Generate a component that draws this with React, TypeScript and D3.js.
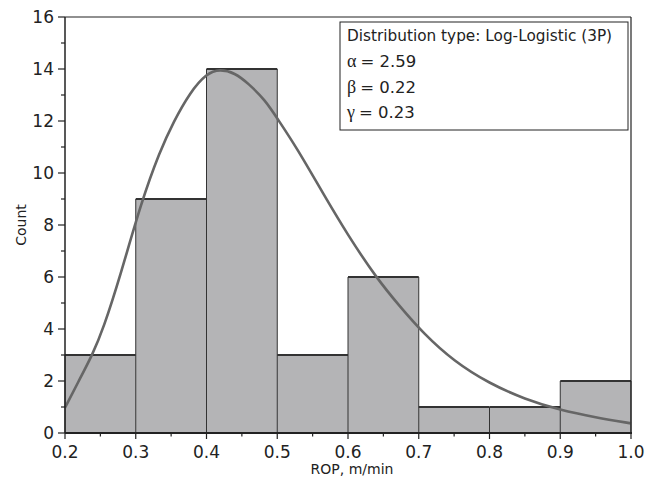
import React from "react";
import * as d3 from "d3";

// Histogram bins (ROP, m/min) and counts
const binEdges = [0.2, 0.3, 0.4, 0.5, 0.6, 0.7, 0.8, 0.9, 1.0];
const counts = [3, 9, 14, 3, 6, 1, 1, 2];

// Fitted Log-Logistic (3P) density, scaled to counts
const fitX = [0.2, 0.219, 0.2386, 0.254, 0.2777, 0.308, 0.3343, 0.353, 0.3767, 0.4, 0.419, 0.44, 0.459, 0.483, 0.5, 0.528, 0.565, 0.6, 0.6405, 0.6735, 0.7065, 0.75, 0.8, 0.85, 0.9, 0.95, 1.0];
const fitY = [0.97, 1.98, 3.0, 4.0, 6.0, 8.9, 10.85, 11.95, 13.1, 13.83, 14.0, 13.85, 13.45, 12.8, 12.1, 10.95, 9.2, 7.6, 5.95, 4.86, 3.83, 2.75, 1.9, 1.3, 0.88, 0.6, 0.37];

const xTicks = [0.2, 0.3, 0.4, 0.5, 0.6, 0.7, 0.8, 0.9, 1.0];
const yTicks = [0, 2, 4, 6, 8, 10, 12, 14, 16];

const legendTitle = "Distribution type: Log-Logistic (3P)";
const paramSymbols = ["α", "β", "γ"];
const paramValues = ["2.59", "0.22", "0.23"];

const W = 656;
const H = 494;
const margin = { left: 65, right: 25, top: 17, bottom: 61 };
const FONT = "'DejaVu Sans', sans-serif";

export default function App() {
  const x = d3.scaleLinear().domain([0.2, 1.0]).range([margin.left, W - margin.right]);
  const y = d3.scaleLinear().domain([0, 16]).range([H - margin.bottom, margin.top]);

  const line = d3
    .line<number>()
    .x((_, i) => x(fitX[i]))
    .y((d) => y(d))
    .curve(d3.curveBasis);

  const x0 = x(0.2);
  const x1 = x(1.0);
  const y0 = y(0);
  const yTop = y(16);

  const xMinor = d3.range(0.25, 1.0, 0.1);
  const yMinor = d3.range(1, 16, 2);

  return (
    <svg width={W} height={H} style={{ position: "absolute", left: 0, top: 0, background: "#fff" }} fontFamily={FONT}>
      {/* bars */}
      {counts.map((c, i) => (
        <rect
          key={"b" + i}
          x={x(binEdges[i])}
          y={y(c)}
          width={x(binEdges[i + 1]) - x(binEdges[i])}
          height={y0 - y(c)}
          fill="#b4b4b6"
        />
      ))}
      {/* bar tops */}
      {counts.map((c, i) => (
        <line key={"t" + i} x1={x(binEdges[i])} x2={x(binEdges[i + 1])} y1={y(c)} y2={y(c)} stroke="#333" strokeWidth={2} />
      ))}
      {/* bar sides */}
      {binEdges.map((e, i) => {
        const left = i > 0 ? counts[i - 1] : 0;
        const right = i < counts.length ? counts[i] : 0;
        const h = Math.max(left, right);
        return <line key={"s" + i} x1={x(e)} x2={x(e)} y1={y(h)} y2={y0} stroke="#333" strokeWidth={1} />;
      })}

      {/* fitted curve */}
      <path d={line(fitY) || ""} fill="none" stroke="#666" strokeWidth={2.6} />

      {/* frame */}
      <line x1={x0} x2={x1} y1={yTop} y2={yTop} stroke="#222" strokeWidth={1.2} />
      <line x1={x1} x2={x1} y1={yTop} y2={y0} stroke="#222" strokeWidth={1.2} />
      <line x1={x0} x2={x0} y1={yTop} y2={y0} stroke="#222" strokeWidth={1.5} />
      <line x1={x0} x2={x1 + 1} y1={y0} y2={y0} stroke="#222" strokeWidth={2.2} />

      {/* y axis ticks */}
      {yTicks.map((t) => (
        <g key={"yt" + t}>
          <line x1={x0 - 7} x2={x0} y1={y(t)} y2={y(t)} stroke="#222" strokeWidth={1.2} />
          <text x={x0 - 11} y={y(t)} dy="0.36em" textAnchor="end" fontSize={17} fill="#222">
            {t}
          </text>
        </g>
      ))}
      {yMinor.map((t) => (
        <line key={"ym" + t} x1={x0 - 4} x2={x0} y1={y(t)} y2={y(t)} stroke="#222" strokeWidth={1.2} />
      ))}

      {/* x axis ticks */}
      {xTicks.map((t) => (
        <g key={"xt" + t}>
          <line x1={x(t)} x2={x(t)} y1={y0} y2={y0 + 6} stroke="#222" strokeWidth={1.2} />
          <text x={x(t)} y={y0 + 25} textAnchor="middle" fontSize={17} fill="#222">
            {t.toFixed(1)}
          </text>
        </g>
      ))}
      {xMinor.map((t) => (
        <line key={"xm" + t} x1={x(t)} x2={x(t)} y1={y0} y2={y0 + 3.5} stroke="#222" strokeWidth={1.2} />
      ))}

      {/* axis titles */}
      <text x={352} y={474} textAnchor="middle" fontSize={14} fill="#222">
        ROP, m/min
      </text>
      <text transform={`translate(26, ${(y0 + yTop) / 2}) rotate(-90)`} textAnchor="middle" fontSize={14} fill="#222">
        Count
      </text>

      {/* parameter box */}
      <rect x={340} y={22} width={288} height={108} fill="#fff" stroke="#222" strokeWidth={1} />
      <text x={347} y={41} fontSize={15.3} fill="#222">
        {legendTitle}
      </text>
      {paramSymbols.map((s, i) => (
        <text key={"p" + i} x={347} y={67 + i * 25.5} fontSize={16.5} fill="#222">
          <tspan fontFamily="'Liberation Serif', 'DejaVu Serif', serif" fontSize={18}>{s}</tspan>
          <tspan dx={4}>= {paramValues[i]}</tspan>
        </text>
      ))}
    </svg>
  );
}
